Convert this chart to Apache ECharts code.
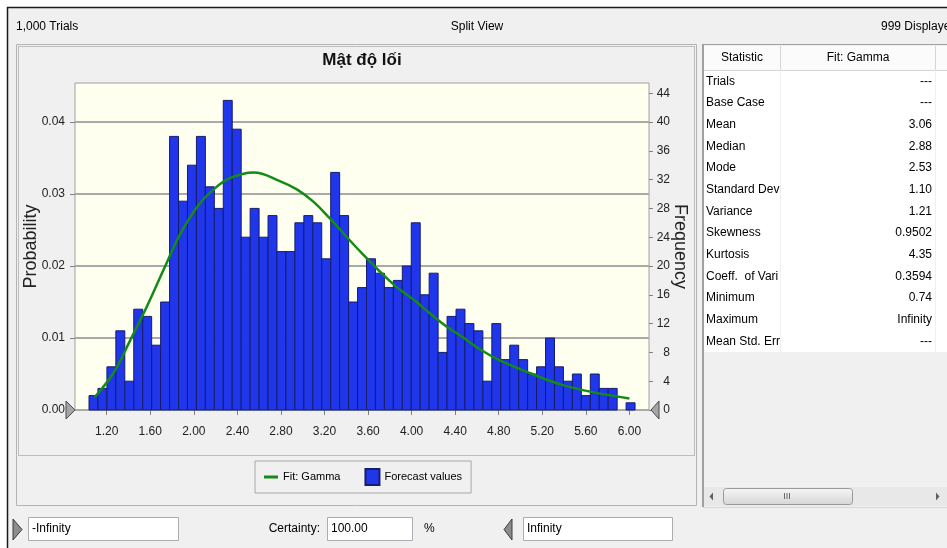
<!DOCTYPE html>
<html>
<head>
<meta charset="utf-8">
<script src="https://cdn.jsdelivr.net/npm/echarts@6/dist/echarts.min.js"></script>
<style>html,body{margin:0;padding:0;background:#f0f0f0;}#c{width:947px;height:548px;}</style>
</head>
<body>
<div id="c"></div>
<script>
// ---- data ----
const binStart = 1.0375;          // left edge of first histogram bin
const binWidth = 0.0822;          // bin width
const counts = [2,3,6,11,4,14,13,9,15,38,29,34,38,31,28,43,39,24,28,24,27,22,22,26,27,26,21,33,27,15,17,21,19,17,18,20,26,16,19,8,13,14,12,11,4,12,7,9,7,5,6,10,6,4,5,2,5,3,3,0,1];
const fitX = [1.09,1.26,1.41,1.57,1.72,1.87,2.03,2.18,2.33,2.55,2.79,2.95,3.10,3.25,3.40,3.56,3.71,3.86,4.02,4.17,4.32,4.48,4.63,4.81,5.09,5.36,5.64,6.00];
const fitY = [1.8,5.1,9.5,14.4,19.4,24.3,28.2,30.6,32.2,33.0,31.8,30.6,28.9,26.6,24.1,21.5,19.2,17.1,15.3,13.4,11.6,10.0,8.4,6.9,5.1,3.6,2.55,1.6];
const xTicks = [1.2,1.6,2.0,2.4,2.8,3.2,3.6,4.0,4.4,4.8,5.2,5.6,6.0];
const probTicks = [0,0.01,0.02,0.03,0.04];
const freqTicks = [0,4,8,12,16,20,24,28,32,36,40,44];
const statNames = ['Trials','Base Case','Mean','Median','Mode','Standard Dev','Variance','Skewness','Kurtosis','Coeff.  of Vari','Minimum','Maximum','Mean Std. Err'];
const statValues = ['---','---','3.06','2.88','2.53','1.10','1.21','0.9502','4.35','0.3594','0.74','Infinity','---'];

// ---- rendering ----
const NAR = '"Liberation Sans",Arial,sans-serif';
const histData = counts.map((c, i) => [binStart + i * binWidth, binStart + (i + 1) * binWidth, c]);
const fitData = fitX.map((x, i) => [x, fitY[i]]);

const els = [];
function txt(t, x, y, opt) {
  els.push(Object.assign({type:'text', silent:true, style:Object.assign({text:t, x:x, y:y, font:'12px ' + NAR, fill:'#000', verticalAlign:'middle', align:'left'}, opt || {})}));
}
// outer white margin and dark window frame
els.push({type:'rect', silent:true, shape:{x:0,y:0,width:947,height:7}, style:{fill:'#fff'}});
els.push({type:'rect', silent:true, shape:{x:0,y:0,width:7,height:548}, style:{fill:'#fff'}});
els.push({type:'line', silent:true, shape:{x1:7,y1:7.5,x2:947,y2:7.5}, style:{stroke:'#1a1a1a', lineWidth:1.5}});
els.push({type:'line', silent:true, shape:{x1:7.5,y1:7,x2:7.5,y2:548}, style:{stroke:'#1a1a1a', lineWidth:1.5}});
// top strip
txt('1,000 Trials', 16, 27);
txt('Split View', 477, 27, {align:'center'});
txt('999 Displayed', 881, 27);
// chart panel frames
els.push({type:'rect', silent:true, shape:{x:16.5,y:44.5,width:680,height:461}, style:{fill:'none', stroke:'#b4b4b4', lineWidth:1}});
els.push({type:'rect', silent:true, shape:{x:18.5,y:46.5,width:676,height:409}, style:{fill:'none', stroke:'#8c8c8c', lineWidth:1, lineDash:[1,1]}});
// table panel
els.push({type:'rect', silent:true, shape:{x:704,y:46,width:243,height:24}, style:{fill:'#fbfbfb'}});
els.push({type:'rect', silent:true, shape:{x:704,y:70,width:243,height:282}, style:{fill:'#fff'}});
els.push({type:'line', silent:true, shape:{x1:704,y1:70.5,x2:947,y2:70.5}, style:{stroke:'#d5d5d5'}});
els.push({type:'line', silent:true, shape:{x1:780.5,y1:46,x2:780.5,y2:70}, style:{stroke:'#d5d5d5'}});
els.push({type:'line', silent:true, shape:{x1:935.5,y1:46,x2:935.5,y2:70}, style:{stroke:'#d5d5d5'}});
els.push({type:'line', silent:true, shape:{x1:780.5,y1:70,x2:780.5,y2:352}, style:{stroke:'#efefef'}});
els.push({type:'line', silent:true, shape:{x1:935.5,y1:70,x2:935.5,y2:352}, style:{stroke:'#efefef'}});
els.push({type:'line', silent:true, shape:{x1:703,y1:44.5,x2:947,y2:44.5}, style:{stroke:'#a0a0a0'}});
els.push({type:'line', silent:true, shape:{x1:703,y1:44,x2:703,y2:507}, style:{stroke:'#a0a0a0', lineWidth:2}});
els.push({type:'line', silent:true, shape:{x1:703,y1:507.5,x2:947,y2:507.5}, style:{stroke:'#d8d8d8'}});
txt('Statistic', 742, 58, {align:'center'});
txt('Fit: Gamma', 858, 58, {align:'center'});
statNames.forEach((n, i) => {
  const cy = 81.2 + i * 21.68;
  txt(n, 706, cy);
  txt(statValues[i], 932, cy, {align:'right'});
});
// scrollbar
els.push({type:'rect', silent:true, shape:{x:704,y:487,width:243,height:19}, style:{fill:'#e8e8e8'}});
els.push({type:'polygon', silent:true, shape:{points:[[713,492.5],[709.5,496.5],[713,500.5]]}, style:{fill:'#606060'}});
els.push({type:'polygon', silent:true, shape:{points:[[936,492.5],[939.5,496.5],[936,500.5]]}, style:{fill:'#606060'}});
els.push({type:'rect', silent:true, shape:{x:723.5,y:488.5,width:129,height:16,r:3}, style:{fill:new echarts.graphic.LinearGradient(0,0,0,1,[{offset:0,color:'#f6f6f6'},{offset:1,color:'#d6d6d6'}]), stroke:'#9a9a9a'}});
txt('III', 787, 496.5, {align:'center', font:'9px ' + NAR, fill:'#555'});
// bottom controls
els.push({type:'polygon', silent:true, shape:{points:[[13,519],[22,529.5],[13,540]]}, style:{fill:'#8c8c8c', stroke:'#3c3c3c'}});
els.push({type:'rect', silent:true, shape:{x:28.5,y:517.5,width:150,height:23}, style:{fill:'#fff', stroke:'#abadb3'}});
txt('-Infinity', 32, 529);
txt('Certainty:', 320, 529, {align:'right'});
els.push({type:'rect', silent:true, shape:{x:327.5,y:517.5,width:85,height:23}, style:{fill:'#fff', stroke:'#abadb3'}});
txt('100.00', 331, 529);
txt('%', 424, 529);
els.push({type:'polygon', silent:true, shape:{points:[[512,519],[504,529.5],[512,540]]}, style:{fill:'#8c8c8c', stroke:'#3c3c3c'}});
els.push({type:'rect', silent:true, shape:{x:523.5,y:517.5,width:149,height:23}, style:{fill:'#fff', stroke:'#abadb3'}});
txt('Infinity', 527, 529);
// certainty grabbers on the plot baseline
els.push({type:'polygon', silent:true, z:100, shape:{points:[[66,401],[75,410],[66,419]]}, style:{fill:'#a6a6a6', stroke:'#4a4a4a'}});
els.push({type:'polygon', silent:true, z:100, shape:{points:[[659,401],[651,410],[659,419]]}, style:{fill:'#a6a6a6', stroke:'#4a4a4a'}});

const GL = 75, GT = 83, GW = 574, GH = 327;
const freqMax = GH / 7.2;
const probMax = freqMax / 1000;
const xMin = 0.9089, xMax = 6.1798;
const lineIcon = 'path://M0,0 L0.05,0 L0.05,0.05 L0,0.05 Z M0,6.5 L14,6.5 L14,9.5 L0,9.5 Z M13.95,15.95 L14,15.95 L14,16 L13.95,16 Z';

const chart = echarts.init(document.getElementById('c'), null, {renderer:'canvas'});
chart.setOption({
  backgroundColor:'#f0f0f0',
  animation:false,
  title:{text:'Mật độ lối', left:357, top:47, textAlign:'center', textStyle:{fontFamily:'"Liberation Sans",Arial,sans-serif', fontSize:17, fontWeight:'bold', color:'#111'}},
  grid:{left:GL, top:GT, width:GW, height:GH, show:true, backgroundColor:'#fffff0', borderColor:'#a0a0a0', borderWidth:1},
  legend:{left:255, top:461, orient:'horizontal', padding:[7,9], itemGap:24, itemWidth:14, itemHeight:16,
    backgroundColor:'#f0f0f0', borderColor:'#a8a8a8', borderWidth:1, selectedMode:false,
    textStyle:{fontFamily:NAR, fontSize:11, color:'#000'},
    data:[{name:'Fit: Gamma', icon:lineIcon, itemStyle:{color:'#168a16', borderWidth:0}}, {name:'Forecast values', icon:'rect'}]},
  xAxis:{type:'value', min:xMin, max:xMax,
    axisLine:{show:false}, splitLine:{show:false},
    axisTick:{show:true, customValues:xTicks, length:5, lineStyle:{color:'#808080'}},
    axisLabel:{customValues:xTicks, formatter:v => v.toFixed(2), margin:16, fontFamily:NAR, fontSize:12, color:'#222'}},
  yAxis:[
    {type:'value', position:'left', min:0, max:probMax, interval:0.01,
      name:'Probability', nameLocation:'middle', nameGap:35, nameRotate:90, nameMoveOverlap:false,
      nameTextStyle:{fontFamily:'"Liberation Sans",Arial,sans-serif', fontSize:18, color:'#222'},
      axisLine:{show:false},
      splitLine:{show:true, lineStyle:{color:'#a9a9a9', width:2}},
      axisTick:{show:true, customValues:probTicks, length:5, lineStyle:{color:'#808080'}},
      axisLabel:{customValues:probTicks, formatter:v => v.toFixed(2), margin:10, fontFamily:NAR, fontSize:12, color:'#222'}},
    {type:'value', position:'right', min:0, max:freqMax, interval:4,
      name:'Frequency', nameLocation:'middle', nameGap:22, nameRotate:-90, nameMoveOverlap:false,
      nameTextStyle:{fontFamily:'"Liberation Sans",Arial,sans-serif', fontSize:18, color:'#222'},
      axisLine:{show:false}, splitLine:{show:false},
      axisTick:{show:true, customValues:freqTicks, length:4, lineStyle:{color:'#808080'}},
      axisLabel:{customValues:freqTicks, align:'right', margin:21, fontFamily:NAR, fontSize:12, color:'#222'}}
  ],
  series:[
    {name:'Forecast values', type:'custom', xAxisIndex:0, yAxisIndex:1, z:2,
      itemStyle:{color:'#1f36ea', borderColor:'#161c6e', borderWidth:1},
      encode:{x:[0,1], y:2},
      data:histData,
      renderItem:function(params, api){
        const c = api.value(2);
        if (!c) return null;
        const p0 = api.coord([api.value(0), c]);
        const p1 = api.coord([api.value(1), 0]);
        return {type:'rect', shape:{x:p0[0], y:p0[1], width:p1[0]-p0[0], height:p1[1]-p0[1]},
          style:{fill:'#1f36ea', stroke:'#161c6e', lineWidth:1}};
      }},
    {name:'Fit: Gamma', type:'line', xAxisIndex:0, yAxisIndex:1, z:5, symbol:'none', smooth:0.4,
      lineStyle:{color:'#168a16', width:2.5}, itemStyle:{color:'#168a16'},
      data:fitData}
  ],
  graphic:{elements:els}
});
</script>
</body>
</html>
